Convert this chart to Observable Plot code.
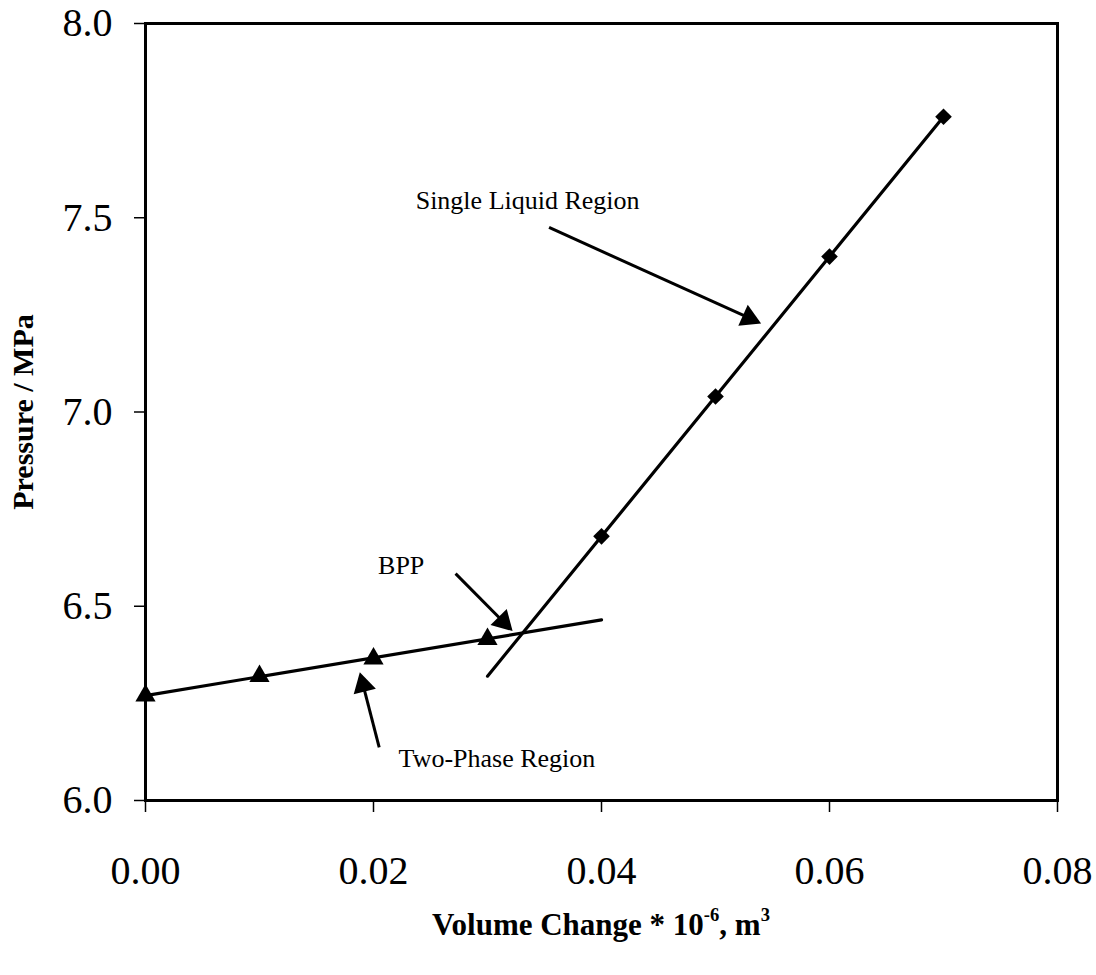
<!DOCTYPE html>
<html>
<head>
<meta charset="utf-8">
<script src="https://cdn.jsdelivr.net/npm/d3@7"></script>
<script src="https://cdn.jsdelivr.net/npm/@observablehq/plot@0.6"></script>
<style>
  html, body { margin: 0; padding: 0; background: #fff; }
  #chart { width: 1096px; }
  #xlabel {
    width: 1096px; box-sizing: border-box; padding-left: 145px; padding-right: 39px;
    text-align: center; font-family: "Liberation Serif", "Times New Roman", serif;
    font-weight: bold; font-size: 31px; line-height: 40px; padding-top: 10px; color: #000;
  }
  #xlabel sup { font-size: 0.6em; vertical-align: 0.75em; line-height: 0; }
</style>
</head>
<body>
<div id="chart"></div>
<div id="xlabel">Volume Change * 10<sup>-6</sup>, m<sup>3</sup></div>
<script>
// ---- data ----
const xTicks = [0, 0.02, 0.04, 0.06, 0.08];
const yTicks = [6.0, 6.5, 7.0, 7.5, 8.0];

const twoPhaseX = [0, 0.01, 0.02, 0.03];
const twoPhaseP = [6.27, 6.32, 6.365, 6.415];

const liquidX = [0.04, 0.05, 0.06, 0.07];
const liquidP = [6.68, 7.04, 7.40, 7.76];

const twoPhaseFitX = [0, 0.04];
const twoPhaseFitP = [6.27, 6.465];
const liquidFitX = [0.03, 0.07];
const liquidFitP = [6.32, 7.76];

const noteText = ["Single Liquid Region", "BPP", "Two-Phase Region"];
const noteX = [0.0237, 0.0204, 0.0222];
const noteP = [7.544, 6.605, 6.108];

const arrowX1 = [0.0354, 0.0272, 0.0205];
const arrowP1 = [7.475, 6.584, 6.137];
const arrowX2 = [0.0540, 0.0322, 0.0188];
const arrowP2 = [7.228, 6.436, 6.330];

const yLabel = "Pressure / MPa";

// ---- build ----
const W = 1096, H = 895, mL = 145, mR = 39, mT = 23, mB = 95;
const xDomain = [0, 0.08], yDomain = [6, 8];
const sx = Plot.scale({x: {domain: xDomain, range: [mL, W - mR]}});
const sy = Plot.scale({y: {domain: yDomain, range: [H - mB, mT]}});

const twoPhase = twoPhaseX.map((x, i) => ({x, p: twoPhaseP[i]}));
const liquid = liquidX.map((x, i) => ({x, p: liquidP[i]}));
const twoPhaseFit = twoPhaseFitX.map((x, i) => ({x, p: twoPhaseFitP[i]}));
const liquidFit = liquidFitX.map((x, i) => ({x, p: liquidFitP[i]}));
const notes = noteText.map((t, i) => ({t, x: noteX[i], p: noteP[i]}));

const headR = 8.5;
const tipDist = 2 * Math.sqrt((Math.PI * headR * headR) / (3 * Math.sqrt(3)));
const arrows = arrowX1.map((x1, i) => {
  const px1 = sx.apply(x1), py1 = sy.apply(arrowP1[i]);
  const px2 = sx.apply(arrowX2[i]), py2 = sy.apply(arrowP2[i]);
  const len = Math.hypot(px2 - px1, py2 - py1);
  const ux = (px2 - px1) / len, uy = (py2 - py1) / len;
  const cx = px2 - ux * tipDist, cy = py2 - uy * tipDist;
  return {
    x1, p1: arrowP1[i],
    hx: sx.invert(cx), hp: sy.invert(cy),
    angle: Math.atan2(ux, -uy) * 180 / Math.PI
  };
});

const chart = Plot.plot({
  width: W, height: H,
  marginLeft: mL, marginRight: mR, marginTop: mT, marginBottom: mB,
  x: {domain: xDomain},
  y: {domain: yDomain},
  style: {fontFamily: '"Liberation Serif", "Times New Roman", serif', background: "#fff", color: "#000"},
  marks: [
    Plot.axisX(xTicks, {tickFormat: d => d.toFixed(2), fontSize: 40, tickSize: 12, tickPadding: 43, label: null, strokeWidth: 1.5}),
    Plot.axisY(yTicks, {tickFormat: d => d.toFixed(1), fontSize: 40, tickSize: 11, tickPadding: 22, label: null, strokeWidth: 1.5}),
    Plot.frame({stroke: "#000", strokeWidth: 3}),
    Plot.line(twoPhaseFit, {x: "x", y: "p", stroke: "#000", strokeWidth: 3.2}),
    Plot.line(liquidFit, {x: "x", y: "p", stroke: "#000", strokeWidth: 3.2}),
    Plot.dot(twoPhase, {x: "x", y: "p", symbol: "triangle", r: 7.5, fill: "#000", stroke: "none"}),
    Plot.dot(liquid, {x: "x", y: "p", symbol: "diamond2", r: 7.5, fill: "#000", stroke: "none"}),
    Plot.link(arrows, {x1: "x1", y1: "p1", x2: "hx", y2: "hp", stroke: "#000", strokeWidth: 3}),
    Plot.dot(arrows, {x: "hx", y: "hp", symbol: "triangle", r: headR, rotate: "angle", fill: "#000", stroke: "none"}),
    Plot.text(notes, {x: "x", y: "p", text: "t", textAnchor: "start", fontSize: 26, fill: "#000"}),
    Plot.text([yLabel], {text: d => d, frameAnchor: "left", textAnchor: "middle", lineAnchor: "middle", dx: -122, rotate: -90, fontSize: 30, fontWeight: "bold", fill: "#000"})
  ]
});
document.getElementById("chart").appendChild(chart);
</script>
</body>
</html>
